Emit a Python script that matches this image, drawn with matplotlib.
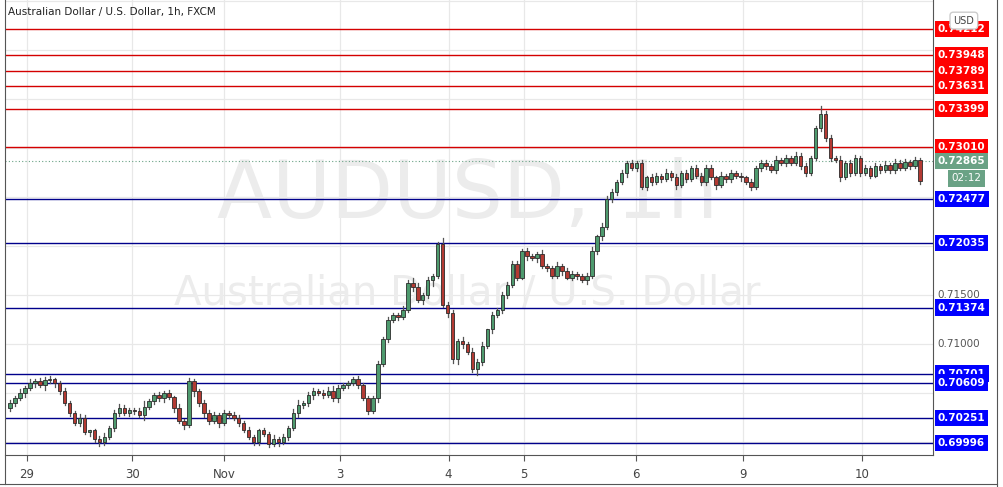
import numpy as np
import matplotlib.pyplot as plt
from matplotlib.patches import Rectangle

closes = [
    0.7040, 0.7045, 0.7050, 0.7055, 0.7060, 0.7062, 0.7058, 0.7063, 0.7065, 0.7060, 0.7052, 0.7040, 0.7030, 0.7020, 0.7025, 0.7010, 0.7012, 0.7003, 0.7000, 0.7005,
    0.7015, 0.7030, 0.7035, 0.7030, 0.7033, 0.7032, 0.7028, 0.7036, 0.7042, 0.7048, 0.7045, 0.7050, 0.7046, 0.7035, 0.7022, 0.7018, 0.7062, 0.7052, 0.7040, 0.7030,
    0.7022, 0.7028, 0.7020, 0.7030, 0.7028, 0.7025, 0.7020, 0.7012, 0.7005, 0.7000, 0.7012, 0.7008, 0.6998, 0.7003, 0.7000, 0.7005, 0.7015, 0.7030, 0.7038, 0.7040,
    0.7048, 0.7052, 0.7050, 0.7048, 0.7052, 0.7045, 0.7055, 0.7058, 0.7060, 0.7064, 0.7058, 0.7045, 0.7032, 0.7045, 0.7080, 0.7105, 0.7125, 0.7130, 0.7128, 0.7135,
    0.7162, 0.7158, 0.7145, 0.7150, 0.7165, 0.7170, 0.7202, 0.7140, 0.7132, 0.7085, 0.7103, 0.7100, 0.7092, 0.7075, 0.7082, 0.7098, 0.7115, 0.7130, 0.7135, 0.7150,
    0.7160, 0.7182, 0.7168, 0.7195, 0.7190, 0.7188, 0.7192, 0.7180, 0.7178, 0.7170, 0.7180, 0.7175, 0.7168, 0.7172, 0.7170, 0.7165, 0.7170, 0.7195, 0.7210, 0.7220,
    0.7248, 0.7255, 0.7265, 0.7275, 0.7285, 0.7280, 0.7285, 0.7260, 0.7270, 0.7265, 0.7272, 0.7268, 0.7275, 0.7270, 0.7262, 0.7275, 0.7268, 0.7280, 0.7272, 0.7265,
    0.7280, 0.7270, 0.7262, 0.7272, 0.7268, 0.7275, 0.7272, 0.7270, 0.7265, 0.7260, 0.7280, 0.7285, 0.7282, 0.7278, 0.7288, 0.7285, 0.7290, 0.7285, 0.7292, 0.7282,
    0.7275, 0.7290, 0.7320, 0.7335, 0.7310, 0.7290, 0.7288, 0.7270, 0.7285, 0.7275, 0.7290, 0.7275, 0.7280, 0.7272, 0.7282, 0.7278, 0.7283, 0.7278, 0.7285, 0.7280,
    0.7286, 0.7282, 0.7288, 0.7266,
]
first_open = 0.7035
# wick lengths in pips, one digit per candle
wick_up = ("3242524431" "2322431234" "2343223622" "3231424323" "3323233242"
           "2324232452" "3323453223" "4222323224" "3542422633" "2424341323"
           "3332322422" "4233223414" "3323232324" "3242423233" "3324232323"
           "2332423243" "3228332423" "3232324243" "3232")
wick_dn = ("3324242534" "3232324343" "2432332523" "3424242534" "3242323223"
           "3232423243" "3423234232" "3232423232" "2424363244" "5423632423"
           "3232424233" "2423424234" "3332423233" "2323423233" "3242333423"
           "2332323223" "3223332423" "2323232332" "2323")

red_levels = [0.74212, 0.73948, 0.73789, 0.73631, 0.73399, 0.73010]
blue_levels = [0.72477, 0.72035, 0.71374, 0.70701, 0.70609, 0.70251, 0.69996]
day_labels = ["29", "30", "Nov", "3", "4", "5", "6", "9", "10"]
day_pos = [3.4, 24.6, 43, 66.4, 88.2, 103.4, 125.8, 147.4, 171.4]
last_price = 0.72865

fig = plt.figure(figsize=(10.04, 4.87), dpi=100)
ax = fig.add_axes([5 / 1004, 32 / 487, 928 / 1004, 455 / 487])
ax.set_xlim(-1, 185.6)
ax.set_ylim(0.69870, 0.74510)
for s in ax.spines.values():
    s.set_color('#555555')
ax.spines['top'].set_visible(False)
ax.spines['left'].set_visible(False)

for p in np.arange(0.700, 0.745, 0.005):
    ax.axhline(p, color='#e8e8e8', lw=0.9, zorder=0)
for d in day_pos:
    ax.axvline(d, color='#e8e8e8', lw=0.9, zorder=0)

ax.text(92, 0.7251, "AUDUSD, 1h", fontsize=58, color='#ececec', ha='center', va='center', zorder=0)
ax.text(92, 0.7152, "Australian Dollar / U.S. Dollar", fontsize=29, color='#ececec', ha='center', va='center', zorder=0)

opens = [first_open] + closes[:-1]
for i, (o, c) in enumerate(zip(opens, closes)):
    up = c >= o
    face = '#4e9a6e' if up else '#b33a33'
    hi = max(o, c) + int(wick_up[i]) * 0.0001
    lo = min(o, c) - int(wick_dn[i]) * 0.0001
    ax.plot([i, i], [lo, hi], color='#555555', lw=0.9, zorder=2)
    ax.add_patch(Rectangle((i - 0.35, min(o, c)), 0.7, max(abs(c - o), 0.00006),
                           facecolor=face, edgecolor='#2b2b2b', lw=0.6, zorder=3))

for p in red_levels:
    ax.axhline(p, color='#d40000', lw=1, zorder=1)
for p in blue_levels:
    ax.axhline(p, color='#00008b', lw=1, zorder=1)
ax.axhline(last_price, color='#6aa285', lw=0.8, ls=(0, (1, 2)), zorder=1)

ax.set_xticks(day_pos)
ax.set_xticklabels(day_labels, fontsize=8.5, color='#444444')
ax.tick_params(axis='x', length=4, color='#555555', pad=5)
ax.set_yticks([])

ax.text(0.003, 0.985, "Australian Dollar / U.S. Dollar, 1h, FXCM", transform=ax.transAxes,
        fontsize=7.5, color='#222222', va='top')

ylab = dict(transform=ax.get_yaxis_transform(), fontsize=7.5, fontweight='bold',
            color='white', va='center', ha='left', clip_on=False)
for p in red_levels:
    ax.text(1.005, p, f"{p:.5f}", bbox=dict(boxstyle='square,pad=0.3', fc='#ff0000', ec='none'), **ylab)
for p in blue_levels:
    ax.text(1.005, p, f"{p:.5f}", bbox=dict(boxstyle='square,pad=0.3', fc='#0000ff', ec='none'), **ylab)
ax.text(1.005, last_price, f"{last_price:.5f}", bbox=dict(boxstyle='square,pad=0.3', fc='#6aa285', ec='none'), **ylab)
ax.text(1.02, 0.72690, "02:12", transform=ax.get_yaxis_transform(), fontsize=7.5, color='white',
        va='center', ha='left', clip_on=False, bbox=dict(boxstyle='square,pad=0.3', fc='#6aa285', ec='none'))
for p in [0.715, 0.710]:
    ax.text(1.005, p, f"{p:.5f}", transform=ax.get_yaxis_transform(), fontsize=7.5, color='#555555',
            va='center', ha='left', clip_on=False)
ax.text(1.022, 0.74300, "USD", transform=ax.get_yaxis_transform(), fontsize=7, color='#444444',
        va='center', ha='left', clip_on=False, zorder=10,
        bbox=dict(boxstyle='round,pad=0.35', fc='white', ec='#cccccc'))

fig.add_artist(plt.Line2D([997 / 1004, 997 / 1004], [0, 1], color='#555555', lw=0.8))
fig.add_artist(plt.Line2D([0, 997 / 1004], [3 / 487, 3 / 487], color='#555555', lw=0.8))
fig.add_artist(plt.Line2D([5 / 1004, 5 / 1004], [3 / 487, 1], color='#555555', lw=0.8))

fig.savefig("out.png", dpi=100)
